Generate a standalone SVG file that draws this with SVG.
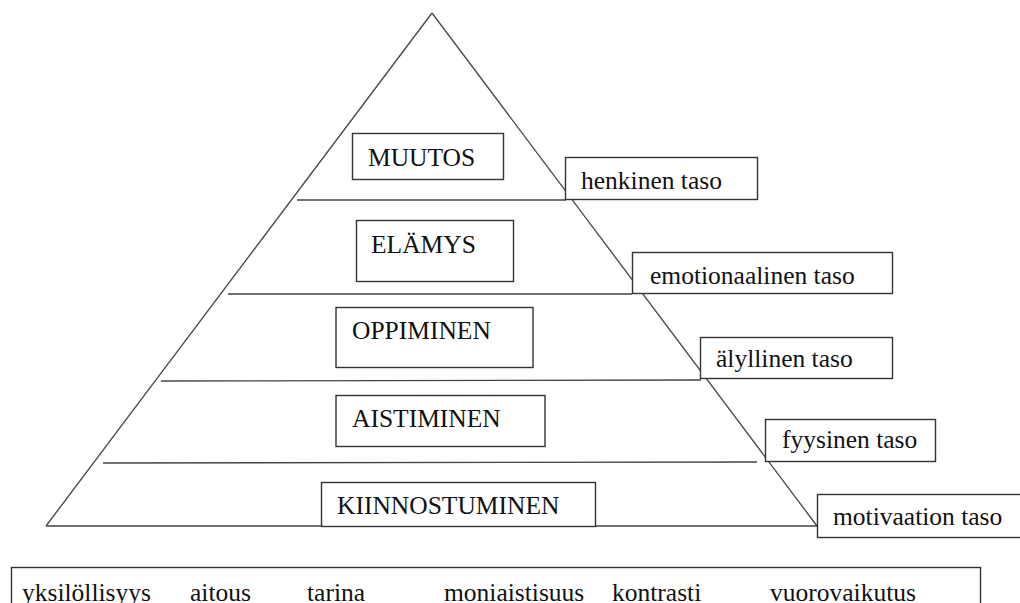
<svg xmlns="http://www.w3.org/2000/svg" width="1020" height="603" viewBox="0 0 1020 603">
<style>
.ln{stroke:#444;stroke-width:1.3;fill:none}
.bx{fill:#fff;stroke:#333;stroke-width:1.4}
text{font-family:'Liberation Serif','Times New Roman','DejaVu Serif',serif;font-size:25.5px;fill:#111}
</style>
<rect width="1020" height="603" fill="#fff"/>
<g id="connectors">
<line class="ln" x1="46" y1="526" x2="432" y2="13"/>
<line class="ln" x1="432" y1="13" x2="817" y2="526"/>
<line class="ln" x1="297" y1="200" x2="566" y2="200"/>
<line class="ln" x1="228" y1="294" x2="632" y2="294"/>
<line class="ln" x1="161" y1="381" x2="701" y2="380"/>
<line class="ln" x1="103" y1="463" x2="757" y2="462"/>
<line class="ln" x1="46" y1="526" x2="817" y2="526"/>
</g>
<g id="muutos"><rect class="bx" x="352.5" y="133.5" width="151" height="46"/><text x="368" y="166">MUUTOS</text></g>
<g id="elamys"><rect class="bx" x="356.5" y="220.5" width="157" height="61"/><text x="371" y="253">ELÄMYS</text></g>
<g id="oppiminen"><rect class="bx" x="336" y="307.5" width="197" height="60"/><text x="352" y="339">OPPIMINEN</text></g>
<g id="aistiminen"><rect class="bx" x="336" y="395.5" width="209" height="51"/><text x="352" y="427">AISTIMINEN</text></g>
<g id="kiinnostuminen"><rect class="bx" x="321.5" y="482.5" width="274" height="44"/><text x="337" y="514">KIINNOSTUMINEN</text></g>
<g id="henkinen"><rect class="bx" x="565.5" y="157.5" width="192" height="42"/><text x="581" y="189">henkinen taso</text></g>
<g id="emotionaalinen"><rect class="bx" x="632.5" y="252.5" width="260" height="41"/><text x="650" y="284">emotionaalinen taso</text></g>
<g id="alyllinen"><rect class="bx" x="700.5" y="337.5" width="192" height="41"/><text x="716" y="367">älyllinen taso</text></g>
<g id="fyysinen"><rect class="bx" x="765.5" y="419.5" width="170" height="42"/><text x="782" y="448">fyysinen taso</text></g>
<g id="motivaatio"><rect class="bx" x="817.5" y="494.5" width="204" height="43"/><text x="833" y="525">motivaation taso</text></g>
<g id="ominaisuudet">
<rect class="bx" x="11.5" y="567.5" width="969" height="50"/>
<text x="22" y="601">yksilöllisyys</text>
<text x="190" y="601">aitous</text>
<text x="307" y="601">tarina</text>
<text x="444" y="601">moniaistisuus</text>
<text x="612" y="601">kontrasti</text>
<text x="770" y="601">vuorovaikutus</text>
</g>
</svg>
